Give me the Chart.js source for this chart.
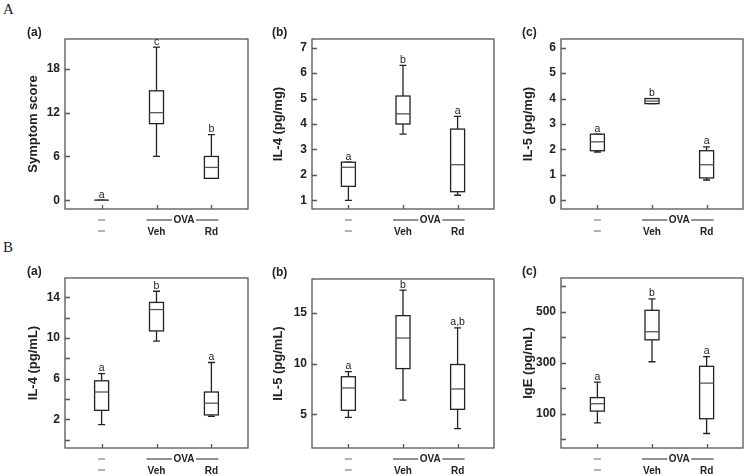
<!DOCTYPE html>
<html>
<head>
<meta charset="utf-8">
<script src="https://cdn.jsdelivr.net/npm/chart.js@4.4.1/dist/chart.umd.min.js"></script>
<style>
  body { margin: 0; background: #fff; width: 745px; height: 476px; position: relative; overflow: hidden; }
  canvas { position: absolute; }
  .fig { position: absolute; font-family: "Liberation Serif", serif; font-size: 15px; color: #222; }
</style>
</head>
<body>
<div class="fig" style="left:3px;top:1px">A</div>
<div class="fig" style="left:3px;top:239px">B</div>
<canvas id="aa" width="250" height="240" style="left:0;top:0"></canvas>
<canvas id="ab" width="250" height="240" style="left:245px;top:0"></canvas>
<canvas id="ac" width="250" height="240" style="left:495px;top:0"></canvas>
<canvas id="ba" width="250" height="240" style="left:0;top:236px"></canvas>
<canvas id="bb" width="250" height="240" style="left:245px;top:236px"></canvas>
<canvas id="bc" width="250" height="240" style="left:495px;top:236px"></canvas>
<script>
// groups: control, OVA + vehicle, OVA + Rd
const groups = ["—", "Veh", "Rd"];

// each group: [min, q1, median, q3, max]
const symptomScore = [[0, 0, 0, 0, 0], [6, 10.5, 12, 15, 21], [3, 3, 4.5, 6, 9]];
const il4Lung = [[1, 1.55, 2.3, 2.5, 2.5], [3.6, 4.0, 4.4, 5.1, 6.3], [1.2, 1.34, 2.4, 3.8, 4.3]];
const il5Lung = [[1.9, 1.95, 2.3, 2.6, 2.6], [3.8, 3.8, 3.9, 4.0, 4.0], [0.8, 0.88, 1.4, 1.95, 2.1]];
const il4Serum = [[1.5, 2.9, 4.7, 5.8, 6.5], [9.7, 10.7, 12.8, 13.5, 14.6], [2.3, 2.45, 3.6, 4.7, 7.6]];
const il5Serum = [[4.7, 5.4, 7.6, 8.7, 9.2], [6.4, 9.5, 12.5, 14.7, 17.2], [3.6, 5.5, 7.5, 9.9, 13.5]];
const igeSerum = [[64, 110, 139, 163, 224], [304, 390, 422, 506, 551], [22, 80, 220, 286, 324]];

// significance letters
const symptomLetters = ["a", "c", "b"];
const il4LungLetters = ["a", "b", "a"];
const il5LungLetters = ["a", "b", "a"];
const il4SerumLetters = ["a", "b", "a"];
const il5SerumLetters = ["a", "b", "a,b"];
const igeLetters = ["a", "b", "a"];

// y ticks (all marks) and the ones that get a label
const symptomTicks = [0, 6, 12, 18];
const il4LungTicks = [1, 2, 3, 4, 5, 6, 7];
const il5LungTicks = [0, 1, 2, 3, 4, 5, 6];
const il4SerumTicks = [0, 2, 4, 6, 8, 10, 12, 14];
const il4SerumLabels = [2, 6, 10, 14];
const il5SerumTicks = [5, 10, 15];
const igeTicks = [0, 100, 200, 300, 400, 500, 600];
const igeLabels = [100, 300, 500];

const FONT = "'Liberation Sans', Arial, sans-serif";
const INK = "#222";

// draws frame, inward ticks, boxes and the group labels under the axis
const boxPlugin = {
    id: "boxes",
    afterDraw(chart) {
        const p = chart.options.plugins.boxes;
        const ctx = chart.ctx;
        const a = chart.chartArea;
        const x = chart.scales.x, y = chart.scales.y;
        ctx.save();

        // frame
        ctx.strokeStyle = "#555";
        ctx.lineWidth = 1.3;
        ctx.strokeRect(a.left, a.top, a.right - a.left, a.bottom - a.top);

        // inward tick marks
        ctx.beginPath();
        y.ticks.forEach(t => {
            const py = Math.round(y.getPixelForValue(t.value)) + 0.5;
            ctx.moveTo(a.left, py);
            ctx.lineTo(a.left + 5, py);
        });
        groups.forEach((g, i) => {
            const px = Math.round(x.getPixelForValue(i + 1)) + 0.5;
            ctx.moveTo(px, a.bottom);
            ctx.lineTo(px, a.bottom - 4);
        });
        ctx.stroke();

        // box plots
        const hw = 7, cw = 3.5;
        ctx.strokeStyle = INK;
        ctx.lineWidth = 1.3;
        p.data.forEach((d, i) => {
            const cx = x.getPixelForValue(i + 1);
            const [mn, q1, md, q3, mx] = d.map(v => y.getPixelForValue(v));
            ctx.beginPath();
            ctx.moveTo(cx, q1); ctx.lineTo(cx, mn);
            ctx.moveTo(cx - cw, mn); ctx.lineTo(cx + cw, mn);
            ctx.moveTo(cx, q3); ctx.lineTo(cx, mx);
            ctx.moveTo(cx - cw, mx); ctx.lineTo(cx + cw, mx);
            ctx.stroke();
            ctx.fillStyle = "#fff";
            ctx.fillRect(cx - hw, q3, hw * 2, q1 - q3);
            ctx.strokeRect(cx - hw, q3, hw * 2, q1 - q3);
            ctx.beginPath();
            ctx.strokeStyle = "#555";
            ctx.moveTo(cx - hw, md); ctx.lineTo(cx + hw, md);
            ctx.stroke();
            ctx.strokeStyle = INK;

            ctx.fillStyle = INK;
            ctx.font = "10.5px " + FONT;
            ctx.textAlign = "center";
            ctx.textBaseline = "alphabetic";
            ctx.fillText(p.letters[i], cx, mx - 2.5);
        });

        // group labels below the axis
        const r1 = a.bottom + 11, r2 = a.bottom + 22;
        const x1 = x.getPixelForValue(1), x2 = x.getPixelForValue(2), x3 = x.getPixelForValue(3);
        const mid = (x2 + x3) / 2;
        ctx.strokeStyle = "#666";
        ctx.lineWidth = 1;
        ctx.beginPath();
        ctx.moveTo(x1 - 3.5, r1); ctx.lineTo(x1 + 3.5, r1);
        ctx.moveTo(x1 - 3.5, r2); ctx.lineTo(x1 + 3.5, r2);
        ctx.stroke();
        ctx.strokeStyle = INK;
        ctx.beginPath();
        ctx.moveTo(x2 - 10, r1); ctx.lineTo(mid - 12, r1);
        ctx.moveTo(mid + 12, r1); ctx.lineTo(x3 + 7, r1);
        ctx.stroke();
        ctx.font = "bold 10px " + FONT;
        ctx.textBaseline = "middle";
        ctx.textAlign = "center";
        ctx.fillText("OVA", mid, r1);
        ctx.fillText(groups[1], x2, r2 + 1);
        ctx.fillText(groups[2], x3, r2 + 1);

        // panel title
        ctx.font = "bold 12px " + FONT;
        ctx.textAlign = "left";
        ctx.fillText(p.panel, 27, p.panelY);
        ctx.restore();
    }
};

function makePanel(id, cfg) {
    const W = 250, H = 240;
    new Chart(document.getElementById(id), {
        type: "scatter",
        data: { datasets: [{ data: [] }] },
        plugins: [boxPlugin],
        options: {
            responsive: false,
            animation: false,
            layout: { padding: { left: 0, top: cfg.top, right: W - cfg.right, bottom: H - cfg.bottom } },
            plugins: {
                legend: { display: false },
                tooltip: { enabled: false },
                boxes: { data: cfg.data, letters: cfg.letters, panel: cfg.panel, panelY: cfg.top - 6 }
            },
            scales: {
                x: { type: "linear", display: false, min: 1 / 3, max: 11 / 3 },
                y: {
                    type: "linear",
                    min: cfg.min, max: cfg.max,
                    afterBuildTicks: s => { s.ticks = cfg.ticks.map(v => ({ value: v })); },
                    afterFit: s => { s.width = cfg.left; },
                    grid: { display: false, drawTicks: false },
                    border: { display: false },
                    ticks: {
                        padding: 5,
                        color: INK,
                        font: { family: FONT, size: 12, weight: "bold" },
                        callback: v => (!cfg.labels || cfg.labels.includes(v)) ? String(v) : ""
                    },
                    title: {
                        display: true, text: cfg.title, color: INK,
                        font: { family: FONT, size: 13, weight: "bold" },
                        padding: { top: 26, bottom: 0 }
                    }
                }
            }
        }
    });
}

makePanel("aa", { panel: "(a)", title: "Symptom score", data: symptomScore, letters: symptomLetters,
    min: -1.2, max: 22.1, ticks: symptomTicks, left: 65, right: 248, top: 39, bottom: 209 });
makePanel("ab", { panel: "(b)", title: "IL-4 (pg/mg)", data: il4Lung, letters: il4LungLetters,
    min: 0.66, max: 7.34, ticks: il4LungTicks, left: 67, right: 249, top: 39, bottom: 209 });
makePanel("ac", { panel: "(c)", title: "IL-5 (pg/mg)", data: il5Lung, letters: il5LungLetters,
    min: -0.34, max: 6.34, ticks: il5LungTicks, left: 66, right: 248, top: 39, bottom: 209 });
makePanel("ba", { panel: "(a)", title: "IL-4 (pg/mL)", data: il4Serum, letters: il4SerumLetters,
    min: -0.8, max: 15.9, ticks: il4SerumTicks, labels: il4SerumLabels, left: 65, right: 248, top: 42, bottom: 212 });
makePanel("bb", { panel: "(b)", title: "IL-5 (pg/mL)", data: il5Serum, letters: il5SerumLetters,
    min: 1.7, max: 18.3, ticks: il5SerumTicks, left: 67, right: 249, top: 43, bottom: 212 });
makePanel("bc", { panel: "(c)", title: "IgE (pg/mL)", data: igeSerum, letters: igeLetters,
    min: -35, max: 633, ticks: igeTicks, labels: igeLabels, left: 66, right: 248, top: 42, bottom: 212 });
</script>
</body>
</html>
